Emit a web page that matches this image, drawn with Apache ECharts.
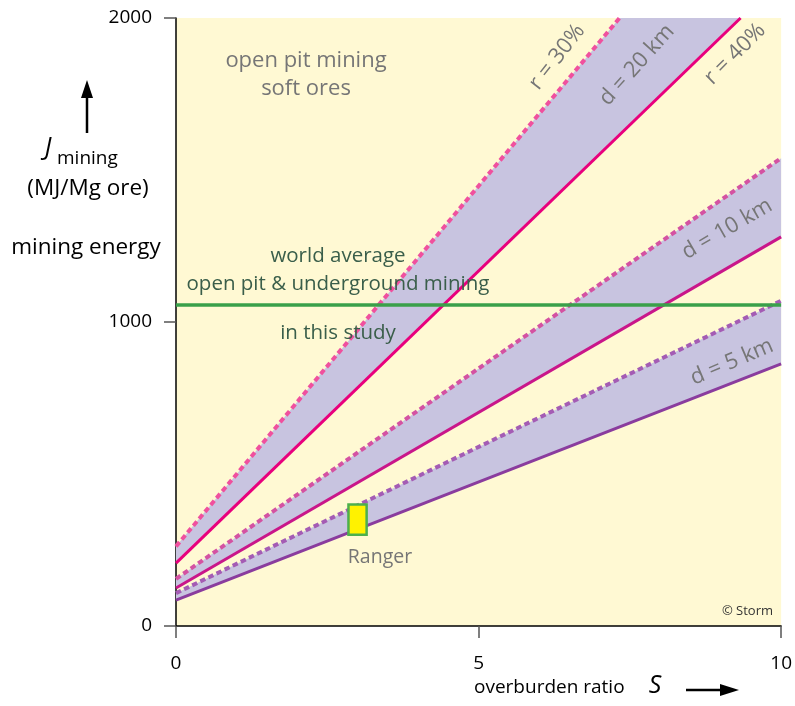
<!DOCTYPE html>
<html><head><meta charset="utf-8">
<script src="https://cdn.jsdelivr.net/npm/echarts@6/dist/echarts.min.js"></script>
<style>html,body{margin:0;padding:0;background:#fff}#c{width:795px;height:706px}</style>
</head><body><div id="c"></div>
<script>
// ---- data ----
const xTicks = [0, 5, 10];
const yTicks = [0, 1000, 2000];
// d = 20 km : r = 40% (solid) and r = 30% (dashed)
const d20Solid = [[0, 207], [9.33, 2000]];
const d20Dashed = [[0, 262], [7.33, 2000]];
// d = 10 km
const d10Solid = [[0, 125], [10, 1280]];
const d10Dashed = [[0, 155], [10, 1539]];
// d = 5 km
const d5Solid = [[0, 85], [10, 862]];
const d5Dashed = [[0, 108], [10, 1070]];
// world average
const worldAvg = [[0, 1056], [10, 1056]];
// Ranger box
const rangerS = [2.85, 3.15];
const rangerJ = [300, 400];

const chart = echarts.init(document.getElementById('c'), null, {renderer: 'canvas'});
const FONT = 'Open Sans';

function band(a, b) { return a.concat(b.slice().reverse()); }
function polySeries(pts) {
  return {
    type: 'custom', silent: true, z: 1, data: [0],
    renderItem: function (params, api) {
      return {type: 'polygon', shape: {points: pts.map(p => api.coord(p))},
        style: {fill: '#c8c4e0', stroke: null}};
    }
  };
}
function lineSeries(data, color, dashed) {
  return {type: 'line', data: data, symbol: 'none', silent: true, z: 3,
    lineStyle: {color: color, width: dashed ? 4 : 3, type: dashed ? [5.5, 3.5] : 'solid', cap: 'butt'}};
}

const option = {
  animation: false,
  grid: {left: 176, right: 11, top: 18, bottom: 80, show: true, backgroundColor: '#fff9d3', borderWidth: 0},
  xAxis: {type: 'value', min: 0, max: 10, interval: 5,
    axisLine: {show: true, onZero: false, lineStyle: {color: '#000', width: 1.5}},
    axisTick: {show: true, length: 12, lineStyle: {color: '#555', width: 1.5}},
    axisLabel: {fontSize: 19, color: '#000', margin: 28, fontFamily: FONT, formatter: v => String(v)},
    splitLine: {show: false}},
  yAxis: {type: 'value', min: 0, max: 2000, interval: 1000,
    axisLine: {show: true, lineStyle: {color: '#000', width: 1.5}},
    axisTick: {show: true, length: 12, lineStyle: {color: '#555', width: 1.5}},
    axisLabel: {fontSize: 19, color: '#000', margin: 24, fontFamily: FONT, formatter: v => String(v)},
    splitLine: {show: false}},
  series: [
    polySeries(band(d20Solid, d20Dashed)),
    polySeries(band(d10Solid, d10Dashed)),
    polySeries(band(d5Solid, d5Dashed)),
    lineSeries(d20Dashed, '#f0509e', true),
    lineSeries(d20Solid, '#e8007d', false),
    lineSeries(d10Dashed, '#d452a2', true),
    lineSeries(d10Solid, '#c9168a', false),
    lineSeries(d5Dashed, '#a45cb4', true),
    lineSeries(d5Solid, '#8a3c9e', false),
    {type: 'line', data: worldAvg, symbol: 'none', silent: true, z: 4,
      lineStyle: {color: '#3aa04a', width: 3.5}},
    {type: 'custom', silent: true, z: 5, data: [0],
      renderItem: function (params, api) {
        const p0 = api.coord([rangerS[0], rangerJ[1]]);
        const p1 = api.coord([rangerS[1], rangerJ[0]]);
        return {type: 'rect', shape: {x: p0[0], y: p0[1], width: p1[0]-p0[0], height: p1[1]-p0[1]},
          style: {fill: '#fff200', stroke: '#4cb04c', lineWidth: 2.5}};
      }}
  ]
};
chart.setOption(option);

const gray = '#767676';
const green = '#3a5e4a';
function txt(x, y, s, o) {
  return Object.assign({type: 'text', x: x, y: y, z: 100,
    style: Object.assign({text: s, fill: gray, font: '22px "' + FONT + '"', align: 'center', verticalAlign: 'middle'}, o || {})});
}
function rtxt(x, y, s, deg, o) {
  const t = txt(0, 0, s, o);
  t.x = x; t.y = y; t.rotation = deg * Math.PI / 180;
  return t;
}
const F20 = '20.5px "' + FONT + '"';
const g = [
  txt(306, 61, 'open pit mining'),
  txt(306, 89, 'soft ores'),
  rtxt(557, 57, 'r = 30%', 52),
  rtxt(637, 65, 'd = 20 km', 48),
  rtxt(735, 54, 'r = 40%', 45),
  rtxt(727, 229, 'd = 10 km', 30),
  rtxt(732, 362, 'd = 5 km', 23),
  txt(338, 256, 'world average', {fill: green, font: F20}),
  txt(338, 284, 'open pit & underground mining', {fill: green, font: F20}),
  txt(338, 333, 'in this study', {fill: green, font: F20}),
  txt(380, 557, 'Ranger', {font: '19.5px "' + FONT + '"'}),
  txt(773, 611, '© Storm', {fill: '#333', font: '13px "' + FONT + '"', align: 'right'}),
  // y axis title block
  {type: 'line', shape: {x1: 87, y1: 133, x2: 87, y2: 96}, style: {stroke: '#000', lineWidth: 2.5}},
  {type: 'polygon', shape: {points: [[81, 98], [93, 98], [87, 80]]}, style: {fill: '#000'}},
  txt(48, 148, 'J', {fill: '#000', font: 'italic 25px "' + FONT + '"', align: 'center'}),
  txt(57, 159, 'mining', {fill: '#000', font: '19px "' + FONT + '"', align: 'left'}),
  txt(88, 189, '(MJ/Mg ore)', {fill: '#000', font: '22.5px "' + FONT + '"'}),
  txt(86, 248, 'mining energy', {fill: '#000', font: '22.5px "' + FONT + '"'}),
  // x axis title
  txt(474, 688, 'overburden ratio', {fill: '#000', font: '19px "' + FONT + '"', align: 'left'}),
  txt(655, 686, 'S', {fill: '#000', font: 'italic 25px "' + FONT + '"', align: 'center'}),
  {type: 'line', shape: {x1: 686, y1: 690, x2: 722, y2: 690}, style: {stroke: '#000', lineWidth: 2.5}},
  {type: 'polygon', shape: {points: [[720, 684], [720, 696], [739, 690]]}, style: {fill: '#000'}}
];
chart.setOption({graphic: g});
</script></body></html>
